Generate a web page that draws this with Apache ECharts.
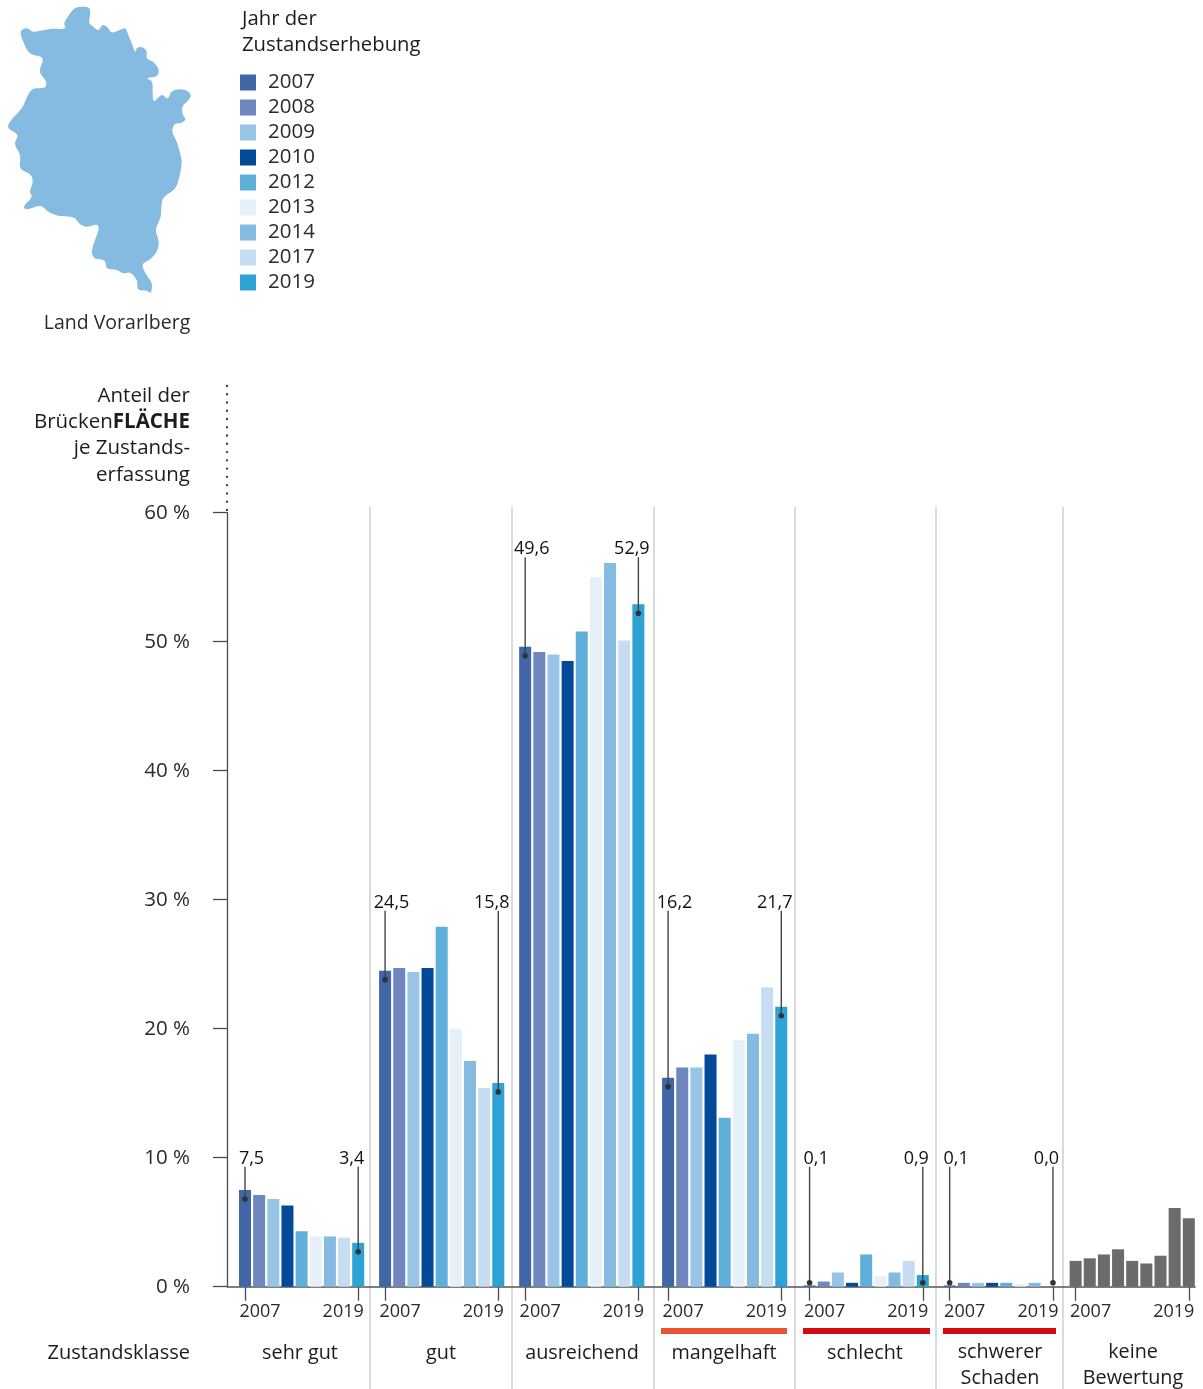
<!DOCTYPE html>
<html lang="de">
<head>
<meta charset="utf-8">
<title>Brückenzustand Land Vorarlberg</title>
<style>
  html, body { margin: 0; padding: 0; background: #fff; }
  #chart { width: 1203px; height: 1389px; }
</style>
<script src="https://cdn.jsdelivr.net/npm/echarts@6/dist/echarts.min.js"></script>
</head>
<body>
<div id="chart"></div>
<script>
// Zustandsklassen in chart order
const classes = ['sehr gut', 'gut', 'ausreichend', 'mangelhaft', 'schlecht', 'schwerer\nSchaden', 'keine\nBewertung'];
const years = ['2007', '2008', '2009', '2010', '2012', '2013', '2014', '2017', '2019'];
const yearColors = ['#4066A8', '#7086BE', '#98C5E6', '#024A97', '#60AFDB', '#E6F0F9', '#85BBE1', '#C5DCF1', '#2DA2D4'];

// Share of bridge area per survey year, one value per rated class
const values2007 = [7.5, 24.5, 49.6, 16.2, 0.1, 0.1];
const values2008 = [7.1, 24.7, 49.2, 17.0, 0.4, 0.3];
const values2009 = [6.8, 24.4, 49.0, 17.0, 1.1, 0.3];
const values2010 = [6.3, 24.7, 48.5, 18.0, 0.3, 0.3];
const values2012 = [4.3, 27.9, 50.8, 13.1, 2.5, 0.3];
const values2013 = [3.9, 20.0, 55.0, 19.1, 0.8, 0.2];
const values2014 = [3.9, 17.5, 56.1, 19.6, 1.1, 0.3];
const values2017 = [3.8, 15.4, 50.1, 23.2, 2.0, 0.0];
const values2019 = [3.4, 15.8, 52.9, 21.7, 0.9, 0.0];
const valuesByYear = [values2007, values2008, values2009, values2010, values2012, values2013, values2014, values2017, values2019];

// Bridges without a rating, same nine surveys
const unratedValues = [2.0, 2.2, 2.5, 2.9, 2.0, 1.8, 2.4, 6.1, 5.3];

// Called-out first and last values, with the value level each leader rises to
const firstLabels = ['7,5', '24,5', '49,6', '16,2', '0,1', '0,1'];
const lastLabels = ['3,4', '15,8', '52,9', '21,7', '0,9', '0,0'];
const leaderTops = [9.3, 29.15, 56.55, 29.15, 9.3, 9.3];

const yTicks = { min: 0, max: 60, step: 10 };

// Category axis layout: each bar step spans ten fine slots, so groups can sit at uneven gaps
const BAR_STEP = 14.15;
const FINE_SLOTS_PER_BAR = 10;
const SLOT = BAR_STEP / FINE_SLOTS_PER_BAR;
const FIRST_CENTER = 245;
const LEADING_SLOTS = 12;
const SLOT_COUNT = 684;
const groupStarts = [12, 111, 210, 311, 411, 510, 599];
const lastSurveyOffsets = [80, 80, 80, 80, 80, 73, 80];
const gridLeft = FIRST_CENTER - (LEADING_SLOTS + 0.5) * SLOT;
const axisX = 227;
const zeroY = 1286.7;
const plotHeight = 774;

const INK = '#1c1c1c';
const AXIS_INK = '#4a4a4a';
const FONT = '"Open Sans", sans-serif';

function barSlot(group, yearIndex) {
  return yearIndex === years.length - 1
    ? groupStarts[group] + lastSurveyOffsets[group]
    : groupStarts[group] + yearIndex * FINE_SLOTS_PER_BAR;
}

// Category slots: the first and last survey of each group carry an axis label
const slotData = new Array(SLOT_COUNT).fill(null).map(() => ({ value: '' }));
groupStarts.forEach((start, g) => {
  slotData[start] = { value: years[0], textStyle: { padding: [0, 0, 0, 30] } };
  slotData[start + lastSurveyOffsets[g]] = { value: years[8], textStyle: { padding: [0, 30, 0, 0] } };
});

function emptySlots() { return new Array(SLOT_COUNT).fill(null); }

const barSeries = years.map((year, y) => {
  const data = emptySlots();
  valuesByYear[y].forEach((v, g) => {
    if (v > 0) data[barSlot(g, y)] = v;
  });
  return {
    name: year, type: 'bar', data, barWidth: 12, barGap: '-100%',
    itemStyle: { color: yearColors[y] }, silent: true
  };
});

const unratedData = emptySlots();
unratedValues.forEach((v, i) => { unratedData[barSlot(6, i)] = v; });
barSeries.push({
  name: 'keine Bewertung', type: 'bar', data: unratedData, barWidth: 12, barGap: '-100%',
  itemStyle: { color: '#6B6B6A' }, silent: true
});

// Leader line with dot and value text for the first and last survey of a class
const calloutData = [];
firstLabels.forEach((label, g) => {
  calloutData.push([barSlot(g, 0), valuesByYear[0][g], leaderTops[g], label, 1]);
  calloutData.push([barSlot(g, 8), valuesByYear[8][g], leaderTops[g], lastLabels[g], -1]);
});

function renderCallout(params, api) {
  const barTop = api.coord([api.value(0), api.value(1)]);
  const top = api.coord([api.value(0), api.value(2)]);
  const zero = api.coord([api.value(0), 0]);
  const x = barTop[0];
  const dotY = Math.min(barTop[1] + 9, zero[1] - 4);
  return {
    type: 'group',
    children: [
      { type: 'line', shape: { x1: x, y1: top[1], x2: x, y2: dotY },
        style: { stroke: '#444444', lineWidth: 1.4 } },
      { type: 'circle', shape: { cx: x, cy: dotY, r: 2.8 }, style: { fill: '#333333' } },
      { type: 'text', x: x + api.value(4) * 6.5, y: top[1] - 8,
        style: { text: api.value(3), fill: '#111111', font: '18px ' + FONT, align: 'center', verticalAlign: 'middle' } }
    ]
  };
}

// Silhouette of the federal state, traced at three times its drawn size
const outline = [
  [207,45],[225,25],[250,20],[268,25],[270,45],[268,68],[280,80],[295,90],[308,75],[322,82],[335,97],[360,90],
  [375,85],[385,105],[395,130],[406,155],[412,143],[430,143],[440,155],[441,175],[462,188],[476,210],[470,228],
  [442,235],[456,245],[458,280],[462,303],[485,285],[503,295],[515,275],[540,268],[565,275],[572,290],[548,320],
  [548,342],[556,358],[545,368],[525,372],[517,393],[530,425],[543,470],[545,490],[538,530],[525,565],[490,595],
  [484,625],[482,650],[470,680],[468,695],[476,725],[470,755],[450,778],[428,795],[440,825],[455,850],[452,878],
  [440,872],[415,868],[410,840],[390,818],[370,820],[350,810],[322,805],[313,782],[285,775],[276,760],[280,735],
  [295,690],[292,675],[260,680],[240,672],[222,653],[180,648],[150,638],[120,618],[80,628],[72,620],[95,590],
  [90,575],[98,545],[92,525],[62,505],[60,465],[45,432],[52,405],[25,383],[30,365],[65,325],[95,270],[135,262],
  [138,245],[120,215],[127,175],[90,160],[70,125],[62,95],[80,85],[100,95],[150,87],[195,85],[193,70]
].map(p => [p[0] / 3, p[1] / 3]);

function text(content, x, y, align, extra) {
  return {
    type: 'text', x, y, silent: true,
    style: Object.assign({
      text: content, fill: INK, font: '20px ' + FONT, align, verticalAlign: 'middle', lineHeight: 25.5
    }, extra || {})
  };
}

const separators = [370, 512, 654, 795, 936, 1063].map(x => ({
  type: 'line', silent: true, z: -1,
  shape: { x1: x, y1: 507, x2: x, y2: 1389 },
  style: { stroke: '#DADADA', lineWidth: 2 }
}));

const severityBars = [
  { x: 661, w: 126, fill: '#EB5234' },
  { x: 803, w: 127, fill: '#D20A11' },
  { x: 943, w: 113, fill: '#D20A11' }
].map(b => ({
  type: 'rect', silent: true,
  shape: { x: b.x, y: 1328, width: b.w, height: 6 },
  style: { fill: b.fill }
}));

const classCenters = [300, 441, 582, 724, 865, 1000, 1133];
const classTexts = classes.map((name, i) =>
  text(name, classCenters[i], name.includes('\n') ? 1365.5 : 1353, 'center', { font: '19.8px ' + FONT }));

const graphicElements = [
  { type: 'polygon', silent: true, shape: { points: outline, smooth: 0.35 }, style: { fill: '#85BBE1' } },
  text('Land Vorarlberg', 117, 323, 'center', { fill: '#2a2a2a', font: '19.5px ' + FONT }),
  text('Jahr der\nZustandserhebung', 242, 32, 'left', { lineHeight: 26, font: '20.3px ' + FONT }),
  {
    type: 'text', silent: true, x: 190, y: 435.5,
    style: {
      text: 'Anteil der\nBrücken{b|FLÄCHE}\nje Zustands-\nerfassung',
      fill: INK, font: '20.5px ' + FONT, align: 'right', verticalAlign: 'middle', lineHeight: 26.2,
      rich: { b: { font: 'bold 20.5px ' + FONT, fill: INK, lineHeight: 26.2 } }
    }
  },
  {
    type: 'line', silent: true,
    shape: { x1: axisX, y1: 386, x2: axisX, y2: 510 },
    style: { stroke: '#444444', lineWidth: 2.4, lineCap: 'round', lineDash: [0.01, 8.25] }
  },
  text('Zustandsklasse', 190, 1353, 'right'),
  ...separators,
  ...severityBars,
  ...classTexts
];

const chart = echarts.init(document.getElementById('chart'), null, { renderer: 'canvas' });
chart.setOption({
  animation: false,
  backgroundColor: '#ffffff',
  textStyle: { fontFamily: FONT },
  grid: {
    left: gridLeft, top: zeroY - plotHeight, width: SLOT * SLOT_COUNT, height: plotHeight,
    containLabel: false, outerBoundsMode: 'none'
  },
  legend: {
    data: years, orient: 'vertical', left: 240, top: 72, padding: 0,
    icon: 'rect', itemWidth: 16, itemHeight: 16, itemGap: 4, selectedMode: false,
    textStyle: { fontSize: 20.5, color: '#2a2a2a', fontFamily: FONT, padding: [0, 0, 0, 7] }
  },
  xAxis: {
    type: 'category', data: slotData, boundaryGap: true,
    axisLine: { show: true, lineStyle: { color: '#555555', width: 1.5 } },
    axisTick: {
      show: true, alignWithLabel: true, length: 14, inside: false,
      interval: i => slotData[i].value !== '',
      lineStyle: { color: AXIS_INK, width: 1.3 }
    },
    axisLabel: {
      show: true, interval: i => slotData[i].value !== '', hideOverlap: false,
      margin: 16, fontSize: 18, color: '#2a2a2a', fontFamily: FONT, align: 'center'
    }
  },
  yAxis: {
    type: 'value', min: yTicks.min, max: yTicks.max, interval: yTicks.step,
    offset: gridLeft - axisX,
    splitLine: { show: false },
    axisLine: { show: true, lineStyle: { color: AXIS_INK, width: 1.3 } },
    axisTick: { show: true, length: 14, lineStyle: { color: AXIS_INK, width: 1.3 } },
    axisLabel: { margin: 37, fontSize: 20.5, color: '#2a2a2a', fontFamily: FONT, padding: [3, 0, 0, 0], formatter: '{value} %' }
  },
  graphic: { elements: graphicElements },
  series: [
    ...barSeries,
    {
      type: 'custom', name: 'Werte', data: calloutData, renderItem: renderCallout, clip: false, silent: true, z: 5,
      encode: { x: 0, y: 1 }
    }
  ]
});
</script>
</body>
</html>
